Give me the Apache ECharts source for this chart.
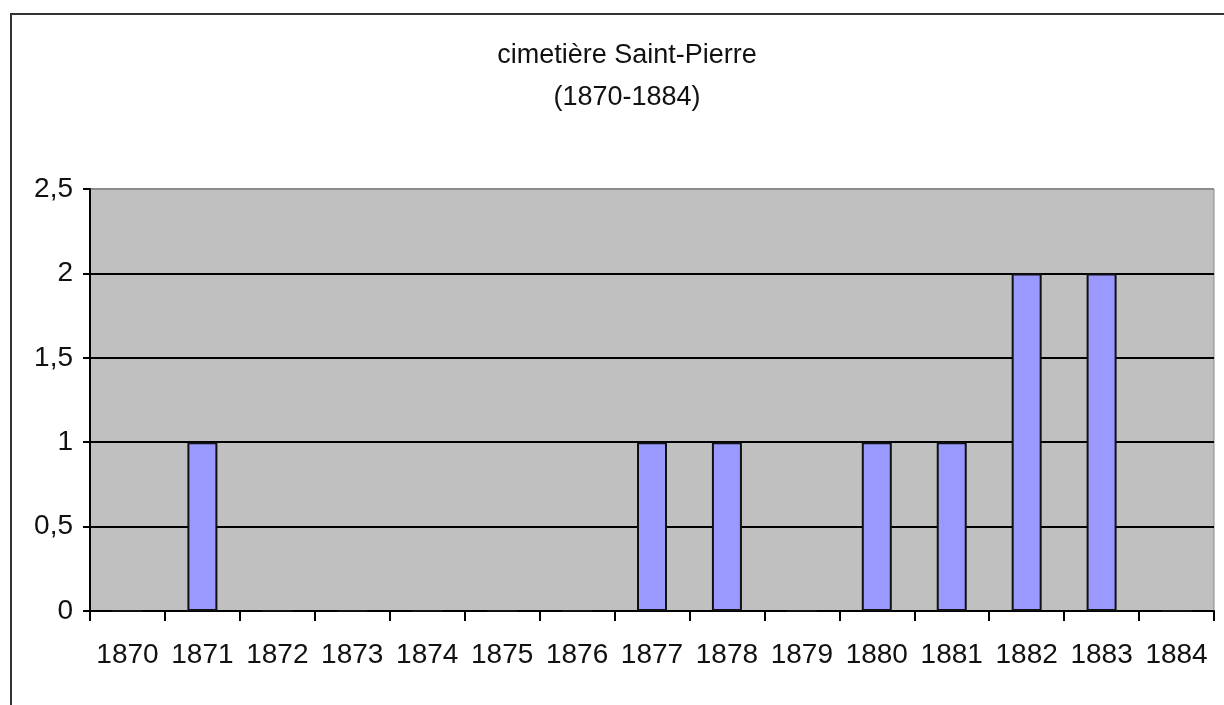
<!DOCTYPE html>
<html>
<head>
<meta charset="utf-8">
<script src="https://cdn.jsdelivr.net/npm/echarts@6/dist/echarts.min.js"></script>
<style>
  html, body { margin: 0; padding: 0; background: #fff; }
  #chart { width: 1224px; height: 705px; }
</style>
</head>
<body>
<div id="chart"></div>
<script>
const years = ['1870', '1871', '1872', '1873', '1874', '1875', '1876', '1877',
    '1878', '1879', '1880', '1881', '1882', '1883', '1884'];
const burials = [0, 1, 0, 0, 0, 0, 0, 1, 1, 0, 1, 1, 2, 2, 0];
const titleLines = ['cimetière Saint-Pierre', '(1870-1884)'];

const font = "'Liberation Sans Narrow', 'Arial Narrow', 'Liberation Sans', Arial, sans-serif";

const chart = echarts.init(document.getElementById('chart'));

chart.setOption({
    animation: false,
    backgroundColor: '#fff',
    title: {
        text: titleLines.join('\n'),
        left: 622,
        top: 30,
        textAlign: 'center',
        textStyle: {
            fontFamily: font,
            fontSize: 27,
            fontWeight: 'normal',
            color: '#111',
            lineHeight: 42
        }
    },
    graphic: [
        {
            type: 'rect',
            shape: { x: 11, y: 14, width: 1300, height: 800 },
            style: { fill: 'none', stroke: '#333', lineWidth: 2 },
            z: 100
        }
    ],
    grid: {
        left: 90,
        right: 10,
        top: 189,
        bottom: 94,
        show: true,
        backgroundColor: '#c0c0c0',
        borderColor: '#8c8c8c',
        borderWidth: 1
    },
    xAxis: {
        type: 'category',
        data: years,
        boundaryGap: true,
        axisLine: { lineStyle: { color: '#000', width: 2 } },
        axisTick: { show: true, length: 10, lineStyle: { color: '#000', width: 2 } },
        axisLabel: {
            interval: 0,
            margin: 30,
            fontFamily: font,
            fontSize: 28,
            color: '#111'
        },
        splitLine: { show: false }
    },
    yAxis: {
        type: 'value',
        min: 0,
        max: 2.5,
        interval: 0.5,
        axisLine: { show: true, lineStyle: { color: '#000', width: 2 } },
        axisTick: { show: true, length: 7, lineStyle: { color: '#000', width: 2 } },
        axisLabel: {
            margin: 17,
            fontFamily: font,
            fontSize: 28,
            color: '#111',
            formatter: v => String(v).replace('.', ',')
        },
        splitLine: {
            show: true,
            lineStyle: {
                color: ['#000', '#000', '#000', '#000', '#000', '#8c8c8c'],
                width: 2
            }
        }
    },
    series: [
        {
            type: 'bar',
            data: burials,
            barWidth: 30,
            itemStyle: {
                color: '#9999ff',
                borderColor: '#111',
                borderWidth: 2
            }
        }
    ]
});
</script>
</body>
</html>
